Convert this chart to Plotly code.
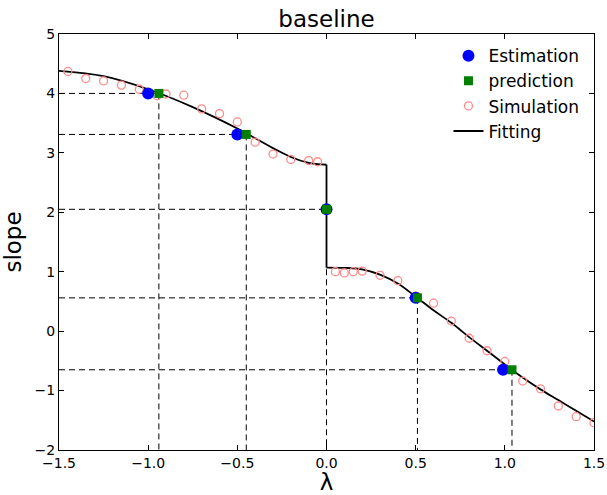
import plotly.graph_objects as go

# Estimation (blue circles)
est_x = [-1.0, -0.5, 0.0, 0.5, 0.99]
est_y = [4.0, 3.31, 2.05, 0.56, -0.65]

# Prediction (green squares)
pred_x = [-0.94, -0.45, 0.0, 0.51, 1.04]
pred_y = [4.0, 3.31, 2.05, 0.56, -0.65]

# Simulation (open pink circles)
sim_x = [-1.45, -1.35, -1.25, -1.15, -1.05, -0.95, -0.90, -0.80, -0.70, -0.60, -0.50,
         -0.40, -0.30, -0.20, -0.10, -0.05,
         0.05, 0.10, 0.15, 0.20, 0.30, 0.40, 0.50, 0.60, 0.70, 0.80, 0.90, 1.00,
         1.10, 1.20, 1.30, 1.40, 1.50]
sim_y = [4.37, 4.25, 4.21, 4.14, 4.07, 3.96, 3.99, 3.97, 3.74, 3.66, 3.52,
         3.18, 2.98, 2.89, 2.87, 2.85,
         1.00, 0.98, 1.00, 1.01, 0.94, 0.85, 0.59, 0.47, 0.17, -0.12, -0.33, -0.51,
         -0.84, -0.97, -1.26, -1.44, -1.54]

# Fitting curve (two branches with a jump at 0)
fit_left_x = [-1.5, -1.25, -1.0, -0.75, -0.5, -0.3, -0.2, -0.1, -0.05, 0.0]
fit_left_y = [4.38, 4.29, 4.07, 3.77, 3.41, 3.08, 2.93, 2.83, 2.81, 2.80]
fit_right_x = [0.0, 0.1, 0.2, 0.3, 0.4, 0.5, 0.6, 0.7, 0.8, 0.9, 1.0, 1.1, 1.2, 1.3, 1.4, 1.5]
fit_right_y = [1.07, 1.065, 1.04, 0.95, 0.80, 0.58, 0.35, 0.14, -0.10, -0.33, -0.56,
               -0.78, -0.98, -1.16, -1.34, -1.52]

x_ticks = [-1.5, -1.0, -0.5, 0.0, 0.5, 1.0, 1.5]
x_tick_text = ["−1.5", "−1.0", "−0.5", "0.0", "0.5", "1.0", "1.5"]
y_ticks = [-2, -1, 0, 1, 2, 3, 4, 5]
y_tick_text = ["−2", "−1", "0", "1", "2", "3", "4", "5"]
x_range = [-1.5, 1.5]
y_range = [-2, 5]

fig = go.Figure()

# dashed guide lines from predictions
gx, gy = [], []
for px, py in zip(pred_x, pred_y):
    gx += [x_range[0], px, None, px, px, None]
    gy += [py, py, None, py, y_range[0], None]
fig.add_trace(go.Scatter(x=gx, y=gy, mode="lines", showlegend=False, hoverinfo="skip",
                         line=dict(color="black", width=1, dash="6px,4px")))

fig.add_trace(go.Scatter(x=fit_left_x, y=fit_left_y, mode="lines", name="Fitting",
                         legendgroup="fit", legendrank=4, line_shape="spline",
                         line=dict(color="black", width=1.8)))
fig.add_trace(go.Scatter(x=[fit_left_x[-1], fit_right_x[0]], y=[fit_left_y[-1], fit_right_y[0]],
                         mode="lines", legendgroup="fit", showlegend=False,
                         line=dict(color="black", width=1.8)))
fig.add_trace(go.Scatter(x=fit_right_x, y=fit_right_y, mode="lines", legendgroup="fit",
                         showlegend=False, line_shape="spline",
                         line=dict(color="black", width=1.8)))

fig.add_trace(go.Scatter(x=sim_x, y=sim_y, mode="markers", name="Simulation", legendrank=3,
                         marker=dict(symbol="circle-open", size=8, color="#ff8a8a",
                                     line=dict(width=1.3, color="#ff8a8a"))))
fig.add_trace(go.Scatter(x=est_x, y=est_y, mode="markers", name="Estimation", legendrank=1,
                         marker=dict(symbol="circle", size=12, color="#0000ff",
                                     line=dict(width=0))))
fig.add_trace(go.Scatter(x=pred_x, y=pred_y, mode="markers", name="prediction", legendrank=2,
                         marker=dict(symbol="square", size=9, color="#008000",
                                     line=dict(width=0))))

axis_common = dict(showgrid=False, zeroline=False, showline=True, linecolor="black",
                   linewidth=1, mirror="ticks", ticks="inside", ticklen=5,
                   tickcolor="black", tickfont=dict(size=14, color="black"),
                   automargin=False)

fig.update_layout(
    width=607, height=495,
    margin=dict(l=59, r=13, t=34, b=45),
    paper_bgcolor="white", plot_bgcolor="white",
    font=dict(family="DejaVu Sans", color="black"),
    title=dict(text="baseline", xref="paper", x=0.5, xanchor="center",
               y=0.962, yanchor="middle", font=dict(size=23)),
    xaxis=dict(range=x_range, tickvals=x_ticks, ticktext=x_tick_text,
               title=dict(text="λ", font=dict(size=23), standoff=2), **axis_common),
    yaxis=dict(range=y_range, tickvals=y_ticks, ticktext=y_tick_text,
               title=dict(text="slope", font=dict(size=23), standoff=10), **axis_common),
    legend=dict(x=0.728, y=0.99, xanchor="left", yanchor="top", bgcolor="rgba(0,0,0,0)",
                font=dict(size=17), itemsizing="trace", tracegroupgap=0),
)

fig.write_html("out.html", config={"displayModeBar": False},
               post_script="document.body.style.margin='0';document.body.style.padding='0';")
